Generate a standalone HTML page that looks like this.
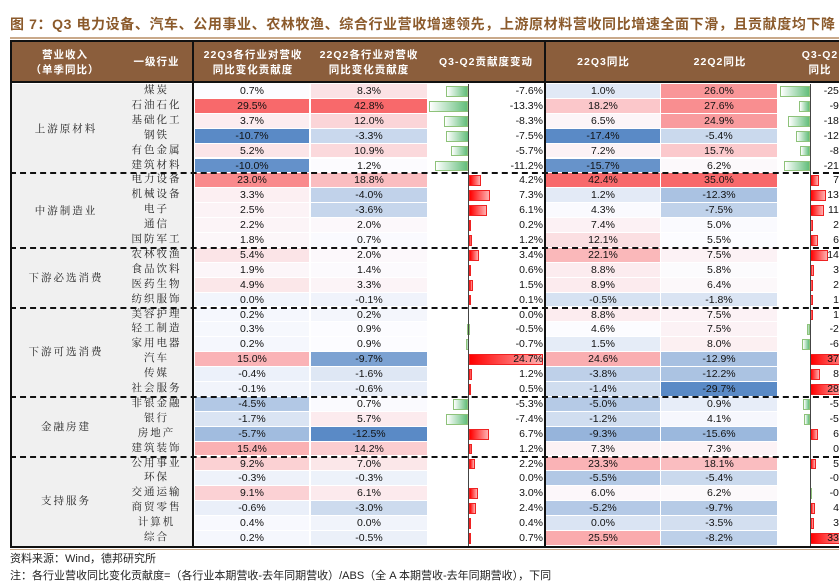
<!DOCTYPE html>
<html><head><meta charset="utf-8">
<style>
body{margin:0;width:839px;height:581px;overflow:hidden;background:#fff;position:relative;font-family:"Liberation Sans","Noto Sans CJK SC",sans-serif;}
.a{position:absolute;}
#title{left:10px;top:14px;font-size:14px;font-weight:bold;color:#8B5A2B;white-space:nowrap;letter-spacing:0.6px;font-family:"Liberation Sans","Noto Sans CJK SC",sans-serif;}
#tline{left:10px;top:37px;width:829px;height:2px;background:#c9a98a;}
#hdr{left:10px;top:40px;width:829px;height:43px;background:#8B5E3C;border-top:2px solid #111;border-bottom:2px solid #111;box-sizing:border-box;}
.h{position:absolute;color:#fff;font-size:10.5px;font-weight:bold;text-align:center;line-height:15px;white-space:nowrap;letter-spacing:1px;}
.cell{position:absolute;font-size:10.5px;text-align:center;color:#111;line-height:14px;white-space:nowrap;overflow:hidden;}
.ind{position:absolute;font-size:10.5px;color:#222;letter-spacing:2px;text-align:center;font-family:"Liberation Serif","Noto Serif CJK SC",serif;white-space:nowrap;}
.grp{position:absolute;font-size:10.5px;color:#222;letter-spacing:2px;font-family:"Liberation Serif","Noto Serif CJK SC",serif;white-space:nowrap;}
.dash{position:absolute;left:10px;width:829px;height:0;border-top:2px dashed #111;}
.vl{position:absolute;background:#111;}
.foot{position:absolute;left:10px;font-size:11px;color:#222;white-space:nowrap;}
</style></head><body>
<div id="title" class="a">图 7：Q3 电力设备、汽车、公用事业、农林牧渔、综合行业营收增速领先，上游原材料营收同比增速全面下滑，且贡献度均下降</div>
<div id="tline" class="a"></div>
<div id="hdr" class="a">
  <div class="h" style="left:0;width:110px;top:6px">营业收入<br>（单季同比）</div>
  <div class="h" style="left:110px;width:73px;top:13px">一级行业</div>
  <div class="h" style="left:185px;width:116px;top:6px">22Q3各行业对营收<br>同比变化贡献度</div>
  <div class="h" style="left:301px;width:116px;top:6px">22Q2各行业对营收<br>同比变化贡献度</div>
  <div class="h" style="left:417px;width:118px;top:13px">Q3-Q2贡献度变动</div>
  <div class="h" style="left:536px;width:115px;top:13px">22Q3同比</div>
  <div class="h" style="left:652px;width:116px;top:13px">22Q2同比</div>
  <div class="h" style="left:780px;width:60px;top:6px">Q3-Q2<br>同比</div>
</div>
<div id="tbl" class="a" style="left:0;top:0;width:839px;height:581px"></div>
<div class="foot" style="top:550px">资料来源：Wind，德邦研究所</div>
<div class="foot" style="top:567px">注：各行业营收同比变化贡献度=（各行业本期营收-去年同期营收）/ABS（全 A 本期营收-去年同期营收），下同</div>
<script>
const industries=["煤炭","石油石化","基础化工","钢铁","有色金属","建筑材料","电力设备","机械设备","电子","通信","国防军工","农林牧渔","食品饮料","医药生物","纺织服饰","美容护理","轻工制造","家用电器","汽车","传媒","社会服务","非银金融","银行","房地产","建筑装饰","公用事业","环保","交通运输","商贸零售","计算机","综合"];
const groups=["上游原材料","中游制造业","下游必选消费","下游可选消费","金融房建","支持服务"];
const groupSizes=[6,5,4,6,4,6];
const q3Contrib=[0.7,29.5,3.7,-10.7,5.2,-10.0,23.0,3.3,2.5,2.2,1.8,5.4,1.9,4.9,0.0,0.2,0.3,0.2,15.0,-0.4,-0.1,-4.5,-1.7,-5.7,15.4,9.2,-0.3,9.1,-0.6,0.4,0.2];
const q2Contrib=[8.3,42.8,12.0,-3.3,10.9,1.2,18.8,-4.0,-3.6,2.0,0.7,2.0,1.4,3.3,-0.1,0.2,0.9,0.9,-9.7,-1.6,-0.6,0.7,5.7,-12.5,14.2,7.0,-0.3,6.1,-3.0,0.0,-0.5];
const contribChange=[-7.6,-13.3,-8.3,-7.5,-5.7,-11.2,4.2,7.3,6.1,0.2,1.2,3.4,0.6,1.5,0.1,0.0,-0.5,-0.7,24.7,1.2,0.5,-5.3,-7.4,6.7,1.2,2.2,0.0,3.0,2.4,0.4,0.7];
const q3Yoy=[1.0,18.2,6.5,-17.4,7.2,-15.7,42.4,1.2,4.3,7.4,12.1,22.1,8.8,8.9,-0.5,8.8,4.6,1.5,24.6,-3.8,-1.4,-5.0,-1.2,-9.3,7.3,23.3,-5.5,6.0,-5.2,0.0,25.5];
const q2Yoy=[26.0,27.6,24.9,-5.4,15.7,6.2,35.0,-12.3,-7.5,5.0,5.5,7.5,5.8,6.4,-1.8,7.5,7.5,8.0,-12.9,-12.2,-29.7,0.9,4.1,-15.6,7.3,18.1,-5.4,6.2,-9.7,-3.5,-8.2];
const yoyChange=[-25.0,-9.4,-18.4,-12.0,-8.5,-21.9,7.4,13.5,11.8,2.4,6.6,14.6,3.0,2.5,1.3,1.3,-2.9,-6.5,37.5,8.4,28.3,-5.9,-5.3,6.3,0.0,5.2,-0.1,-0.2,4.5,3.5,33.7];

const T=document.getElementById('tbl');
const top0=84,rh=14.9;
const rowY=i=>top0+i*rh;
function median(a){const s=[...a].sort((x,y)=>x-y);return s[Math.floor(s.length/2)];}
function mix(c1,c2,t){return 'rgb('+c1.map((v,k)=>Math.round(v+(c2[k]-v)*t)).join(',')+')';}
function heat(arr,v){const mn=Math.min(...arr),mx=Math.max(...arr),md=median(arr);
  const W=[252,252,255],R=[248,105,107],B=[90,138,198];
  if(v>=md)return mix(W,R,mx===md?0:(v-md)/(mx-md));return mix(W,B,(md-v)/(md-mn));}
function fmt(v){return v.toFixed(1)+'%';}
function add(cls,st,txt){const d=document.createElement('div');d.className=cls;d.style.cssText=st;if(txt!==undefined)d.textContent=txt;T.appendChild(d);return d;}

const g=add('cell','left:10px;top:84px;width:183px;height:'+(31*rh)+'px;background:#f0f0f0;');



const heatCols=[[q3Contrib,195,114,'q3-contrib'],[q2Contrib,311,116,'q2-contrib'],[q3Yoy,546,114,'q3-yoy'],[q2Yoy,661,116,'q2-yoy']];
const cx1=468.5,s1=3.0,cx2=810,s2=1.2;
industries.forEach((name,i)=>{
  const y=rowY(i);
  const n=add('ind','left:120px;width:73px;top:'+(y)+'px;line-height:'+rh+'px;',name);
  
  
  heatCols.forEach(([arr,x,w,nm])=>{
    const c=add('cell','left:'+x+'px;top:'+y+'px;width:'+w+'px;height:'+(rh-1)+'px;background:'+heat(arr,arr[i])+';',fmt(arr[i]));
    
    
  });
  [[contribChange,cx1,s1,543,'contrib-change'],[yoyChange,cx2,s2,857,'yoy-change']].forEach(([arr,cx,s,rx,nm])=>{
    const v=arr[i];const w=Math.abs(v)*s;
    if(w>0.2){
      const bx=v<0?cx-w:cx;
      const bg=v<0?'linear-gradient(to right,#fff,#63be7b)':'linear-gradient(to right,#ff0000,#ffb0b0)';
      const bd=v<0?'#8ec27a':'#ee2222';
      const b=add('cell','left:'+bx+'px;top:'+(y+2)+'px;width:'+Math.max(w-2,0.5)+'px;height:'+(rh-6)+'px;background:'+bg+';border:1px solid '+bd+';');
      
      
    }
    const t=add('cell','text-align:right;left:'+(rx-70)+'px;width:70px;top:'+y+'px;',fmt(v));
    
    
  });
});
let acc=0;
groups.forEach((gname,k)=>{
  const y=rowY(acc),h=groupSizes[k]*rh;
  const l=add('grp','left:12px;width:108px;text-align:center;top:'+(y+h/2-8)+'px;',gname);
  
  
  acc+=groupSizes[k];
  if(k<groups.length-1){const d=add('dash','top:'+(rowY(acc)-1)+'px;');
    
    }
});
[[10,2,'left-border'],[192,2,'label-divider'],[544,2,'section-divider']].forEach(([x,w,nm])=>{
  const v=add('vl','left:'+x+'px;top:40px;width:'+w+'px;height:'+(rowY(31)-40)+'px;');
  
  
});
[[cx1,'contrib-axis'],[cx2,'yoy-axis']].forEach(([x,nm])=>{
  const v=add('vl','left:'+(x-0.5)+'px;top:84px;width:1px;height:'+(31*rh)+'px;background:#444;');
  
  
});
const bb=add('vl','left:10px;top:'+(rowY(31))+'px;width:829px;height:2px;');


const bb2=add('vl','left:10px;top:'+(rowY(31)+3)+'px;width:829px;height:1px;background:#c9a98a;');


</script>
</body></html>
